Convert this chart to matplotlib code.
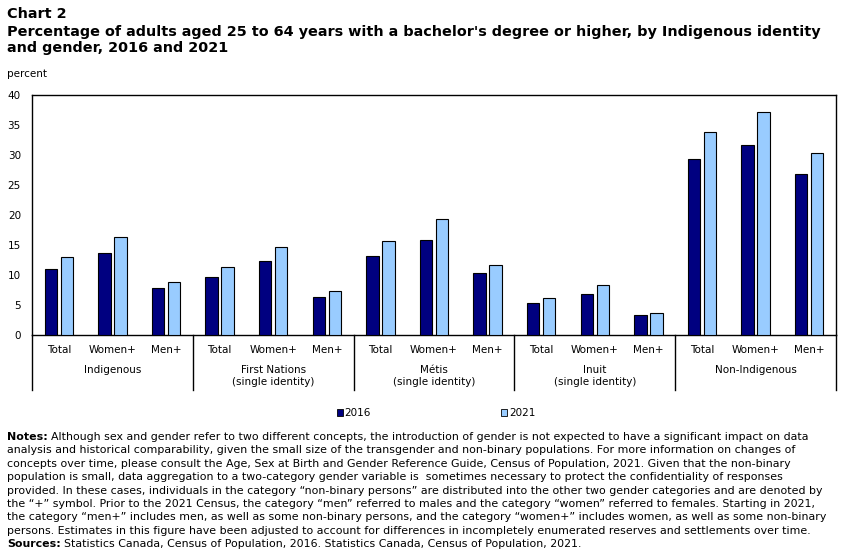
import numpy as np
import matplotlib
matplotlib.use("Agg")
from matplotlib import pyplot as plt
from matplotlib.patches import Patch
from matplotlib import transforms

# data
groups = ["Indigenous", "First Nations\n(single identity)", "Métis\n(single identity)",
          "Inuit\n(single identity)", "Non-Indigenous"]
genders = ["Total", "Women+", "Men+"]
v2016 = [11.0, 13.6, 7.9, 9.6, 12.4, 6.4, 13.1, 15.9, 10.3, 5.3, 6.9, 3.3, 29.3, 31.6, 26.9]
v2021 = [13.0, 16.4, 8.9, 11.3, 14.6, 7.3, 15.6, 19.4, 11.6, 6.1, 8.4, 3.6, 33.8, 37.1, 30.4]
yticks = [0, 5, 10, 15, 20, 25, 30, 35, 40]

dark = "#000080"
light = "#99ccff"
plt.rcParams['font.family'] = ['DejaVu Sans']

fig = plt.figure(figsize=(8.51, 5.49), dpi=100)
W, H = 851, 549
ax = fig.add_axes([32 / W, 1 - 335 / H, (836 - 32) / W, (335 - 95) / H])

x = np.arange(len(v2016))
bw = 0.23
off = 0.149
ax.bar(x - off, v2016, bw, color=dark, edgecolor="black", linewidth=0.8, zorder=3)
ax.bar(x + off, v2021, bw, color=light, edgecolor="black", linewidth=0.8, zorder=3)

ax.set_xlim(-0.5, len(x) - 0.5)
ax.set_ylim(0, 40)
ax.set_yticks(yticks)
ax.tick_params(axis="y", length=0, pad=8, labelsize=7.5)
ax.set_xticks([])
for s in ax.spines.values():
    s.set_linewidth(1.0)

# category labels and group separators
trans = transforms.blended_transform_factory(ax.transData, ax.transAxes)
px = 1.0 / (335 - 95)
for i in x:
    ax.text(i, -15 * px, genders[i % 3], transform=trans, ha="center", va="center", fontsize=7.5)
for g, name in enumerate(groups):
    ax.text(3 * g + 1, -30 * px, name, transform=trans, ha="center", va="top",
            fontsize=7.5, linespacing=1.3)
for b in np.arange(-0.5, len(x), 3):
    ax.plot([b, b], [0, -55 * px], transform=trans, color="black", lw=1.0, clip_on=False)

# legend
handles = [Patch(facecolor=dark, edgecolor="black", linewidth=0.6, label="2016"),
           Patch(facecolor=light, edgecolor="black", linewidth=0.6, label="2021")]
fig.legend(handles=handles, loc="center", bbox_to_anchor=(436 / W, 1 - 413 / H), ncol=2,
           frameon=False, fontsize=7.5, handlelength=0.6, handleheight=0.6,
           handletextpad=0.15, columnspacing=12.5)

# titles
fig.text(7 / W, 1 - 14 / H, "Chart 2", fontsize=10.4, fontweight="bold", va="center")
fig.text(7 / W, 1 - 40 / H,
         "Percentage of adults aged 25 to 64 years with a bachelor's degree or higher, by Indigenous identity\nand gender, 2016 and 2021",
         fontsize=10.4, fontweight="bold", va="center", linespacing=1.1)
fig.text(7 / W, 1 - 74 / H, "percent", fontsize=7.5, va="center")

notes = [
    "Although sex and gender refer to two different concepts, the introduction of gender is not expected to have a significant impact on data",
    "analysis and historical comparability, given the small size of the transgender and non-binary populations. For more information on changes of",
    "concepts over time, please consult the Age, Sex at Birth and Gender Reference Guide, Census of Population, 2021. Given that the non-binary",
    "population is small, data aggregation to a two-category gender variable is  sometimes necessary to protect the confidentiality of responses",
    "provided. In these cases, individuals in the category \u201cnon-binary persons\u201d are distributed into the other two gender categories and are denoted by",
    "the \u201c+\u201d symbol. Prior to the 2021 Census, the category \u201cmen\u201d referred to males and the category \u201cwomen\u201d referred to females. Starting in 2021,",
    "the category \u201cmen+\u201d includes men, as well as some non-binary persons, and the category \u201cwomen+\u201d includes women, as well as some non-binary",
    "persons. Estimates in this figure have been adjusted to account for differences in incompletely enumerated reserves and settlements over time.",
]
y0 = 437
step = 13.4
fs = 7.95
t = fig.text(7 / W, 1 - y0 / H, "Notes:", fontsize=fs, fontweight="bold", va="center")
fig.canvas.draw()
bb = t.get_window_extent()
fig.text(bb.x1 / W + 3 / W, 1 - y0 / H, notes[0], fontsize=fs, va="center")
for k, line in enumerate(notes[1:], start=1):
    fig.text(7 / W, 1 - (y0 + k * step) / H, line, fontsize=fs, va="center")
ys = y0 + len(notes) * step
t2 = fig.text(7 / W, 1 - ys / H, "Sources:", fontsize=fs, fontweight="bold", va="center")
fig.canvas.draw()
bb2 = t2.get_window_extent()
fig.text(bb2.x1 / W + 3 / W, 1 - ys / H,
         "Statistics Canada, Census of Population, 2016. Statistics Canada, Census of Population, 2021.",
         fontsize=fs, va="center")

fig.savefig("out.png", dpi=100)
